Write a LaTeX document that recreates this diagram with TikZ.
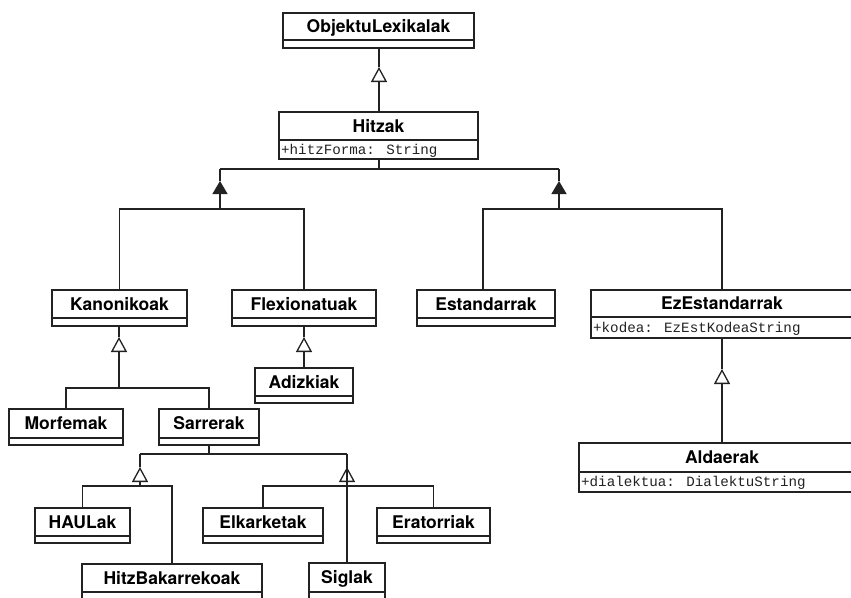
\documentclass[tikz,border=0pt]{standalone}
\usepackage{fontspec}
\setmainfont{TeX Gyre Heros}
\newfontfamily\monofont{Liberation Mono}
\usetikzlibrary{arrows.meta}
\definecolor{ink}{HTML}{222222}

% UML class box: id, left, right, top, separator, bottom, title
\newcommand{\umlclass}[7]{%
  \pgfmathsetmacro{\ucw}{#3-#2}%
  \pgfmathsetmacro{\uch}{#6-#4}%
  \node[classbox, minimum width=\ucw pt, minimum height=\uch pt, anchor=north west] (#1) at (#2,#4) {};
  \draw[conn] (#1.west |- 0,#5) -- (#1.east |- 0,#5);
  \node[titletext] (#1-title) at ({(#2+#3)/2},{(#4+#5)/2}) {#7};
}

\begin{document}
\begin{tikzpicture}[x=1pt,y=-1pt,
  conn/.style={draw=ink, line width=1.3pt},
  classbox/.style={draw=ink, fill=white, line width=1.3pt, inner sep=0pt, outer sep=0pt},
  titletext/.style={font=\fontsize{17.5}{20}\selectfont\bfseries, inner sep=0pt,
    text height=12.6pt, text depth=0pt, text=black},
  attrtext/.style={font=\fontsize{14.2}{16}\selectfont\monofont, inner sep=0pt,
    text height=8.5pt, text depth=0pt, anchor=west, text=ink},
  gen/.style={conn, -{Triangle[open, length=15pt, width=16pt]}},
  genfill/.style={conn, -{Triangle[length=13pt, width=15pt]}},
]
\useasboundingbox (0,0) rectangle (851,597);
\clip (0,0) rectangle (851,597);
\fill[white] (0,0) rectangle (851,597);

% classes
\umlclass{obj}{283}{474}{13}{40}{48}{ObjektuLexikalak}
\umlclass{hitzak}{279}{478}{112}{140}{159}{Hitzak}
\node[attrtext] (hitzak-attr) at ([xshift=2pt]hitzak.west |- 0,150) {+hitzForma: String};

\umlclass{kanon}{52}{187}{290}{318}{326}{Kanonikoak}
\umlclass{flex}{232}{376}{290}{318}{326}{Flexionatuak}
\umlclass{estand}{417}{555}{290}{318}{326}{Estandarrak}
\umlclass{ezest}{591}{853}{290}{317}{338}{EzEstandarrak}
\node[attrtext] (ezest-attr) at ([xshift=2pt]ezest.west |- 0,328) {+kodea: EzEstKodeaString};

\umlclass{adiz}{255}{353}{368}{396}{403}{Adizkiak}
\umlclass{ald}{579}{865}{443}{472}{492}{Aldaerak}
\node[attrtext] (ald-attr) at ([xshift=2pt]ald.west |- 0,482.5) {+dialektua: DialektuString};

\umlclass{morf}{9}{123}{409}{438}{445}{Morfemak}
\umlclass{sarr}{159}{259}{409}{438}{445}{Sarrerak}

\umlclass{haul}{35}{130}{508}{536}{543}{HAULak}
\umlclass{elk}{203}{323}{508}{536}{543}{Elkarketak}
\umlclass{erat}{377}{490}{508}{536}{543}{Eratorriak}
\umlclass{hitzb}{82}{262}{564}{592}{612}{HitzBakarrekoak}
\umlclass{siglak}{309}{385}{563}{592}{612}{Siglak}

% Hitzak -> ObjektuLexikalak
\coordinate (tObj) at (379,67);
\draw[gen] (hitzak.south -| tObj) ++(0,-47) -- (tObj);
\draw[conn] (tObj) -- (tObj |- obj.south);

% Hitzak fork
\coordinate (jH) at (379,169);
\coordinate (jHL) at (220,169);
\coordinate (jHR) at (559,169);
\draw[conn] (hitzak.south -| jH) -- (jH);
\draw[conn] (jHL) -- (jHR);
\coordinate (tL) at (220,181);
\coordinate (tR) at (559,181);
\coordinate (jL) at (220,209);
\coordinate (jR) at (559,209);
\draw[genfill] (jL) -- (tL);
\draw[conn] (tL) -- (jHL);
\draw[genfill] (jR) -- (tR);
\draw[conn] (tR) -- (jHR);

% Kanonikoak, Flexionatuak
\draw[conn] (kanon.north) -- (kanon.north |- jL) -- (flex.north |- jL) -- (flex.north);
% Estandarrak, EzEstandarrak
\coordinate (xE) at (483,0);
\draw[conn] (estand.north -| xE) -- (xE |- jR) -- (ezest.north |- jR) -- (ezest.north);

% Adizkiak -> Flexionatuak
\coordinate (tFlex) at (304,337);
\draw[gen] (adiz.north) -- (tFlex);
\draw[conn] (tFlex) -- (flex.south -| tFlex);

% Morfemak, Sarrerak -> Kanonikoak
\coordinate (tKan) at (119,337);
\coordinate (jK) at (119,388);
\draw[gen] (jK) -- (tKan);
\draw[conn] (tKan) -- (kanon.south -| tKan);
\draw[conn] (morf.north) -- (morf.north |- jK) -- (sarr.north |- jK) -- (sarr.north);

% Sarrerak fork
\coordinate (jS) at (209,454);
\coordinate (jSL) at (140,454);
\coordinate (jSR) at (347,454);
\draw[conn] (sarr.south) -- (sarr.south |- jS);
\draw[conn] (jSL) -- (jSR);
\coordinate (tSL) at (140,467);
\coordinate (tSR) at (347,467);
\coordinate (bSL) at (140,486);
\coordinate (bSR) at (347,486);

% HAULak, HitzBakarrekoak
\draw[gen] (bSL) -- (tSL);
\draw[conn] (tSL) -- (jSL);
\draw[conn] (haul.north) -- (haul.north |- bSL) -- (hitzb.north |- bSL) -- (hitzb.north);

% Elkarketak, Eratorriak, Siglak
\draw[gen] (bSR) -- (tSR);
\draw[conn] (siglak.north) -- (tSR);
\draw[conn] (tSR) -- (jSR);
\draw[conn] (elk.north) -- (elk.north |- bSR) -- (erat.north |- bSR) -- (erat.north);

% Aldaerak -> EzEstandarrak
\coordinate (tEz) at (722,369);
\draw[gen] (ald.north -| tEz) -- (tEz);
\draw[conn] (tEz) -- (ezest.south -| tEz);
\end{tikzpicture}
\end{document}
